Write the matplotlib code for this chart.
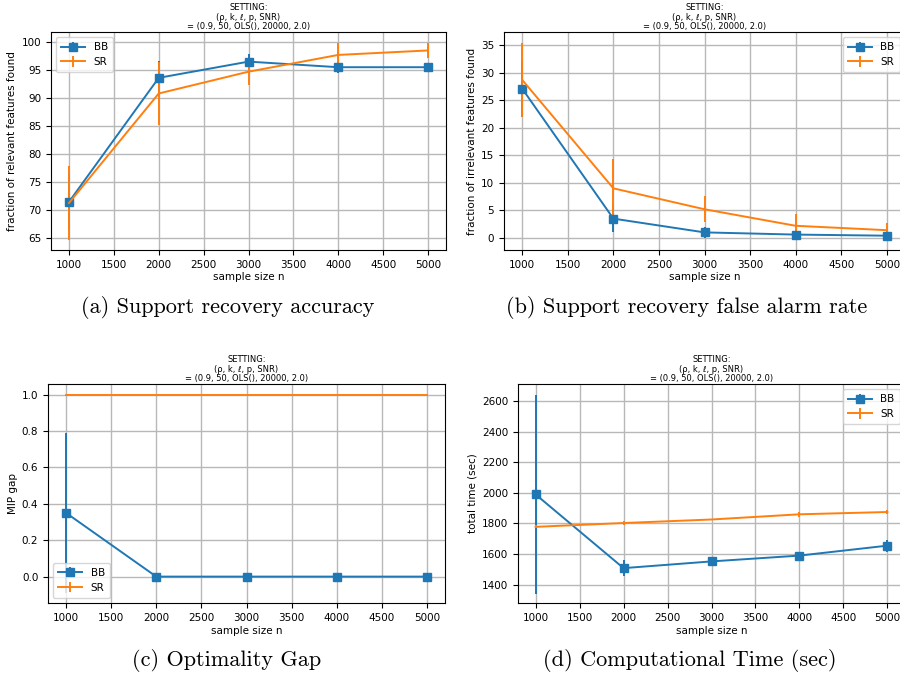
import numpy as np
import matplotlib
matplotlib.use("Agg")
from matplotlib import pyplot as plt

# sample sizes
n = [1000, 2000, 3000, 4000, 5000]

# (a) support recovery accuracy
acc_bb = [71.4, 93.6, 96.5, 95.5, 95.5]
acc_bb_err = [5.0, 3.0, 1.3, 1.0, 0.5]
acc_sr = [71.2, 90.8, 94.7, 97.7, 98.5]
acc_sr_err = [6.7, 5.7, 2.3, 2.2, 1.3]

# (b) false alarm rate
fa_bb = [27.1, 3.5, 1.0, 0.6, 0.4]
fa_bb_err = [5.1, 2.5, 1.0, 0.7, 0.5]
fa_sr = [28.7, 9.0, 5.2, 2.2, 1.4]
fa_sr_err = [6.7, 5.3, 2.4, 2.2, 1.3]

# (c) optimality gap
gap_bb = [0.35, 0.0, 0.0, 0.0, 0.0]
gap_bb_err = [0.44, 0.0, 0.0, 0.0, 0.0]
gap_sr = [1.0, 1.0, 1.0, 1.0, 1.0]
gap_sr_err = [0.0, 0.0, 0.0, 0.0, 0.0]

# (d) computational time
time_bb = [1990, 1508, 1552, 1590, 1655]
time_bb_err = [650, 50, 20, 20, 40]
time_sr = [1778, 1803, 1826, 1860, 1875]
time_sr_err = [10, 10, 5, 15, 15]

setting = "SETTING:\n(ρ, k, ℓ, p, SNR)\n= (0.9, 50, OLS(), 20000, 2.0)"

W, H = 900, 679
fig = plt.figure(figsize=(9, 6.79), dpi=100)


def panel(left, right, top, bottom, bb, bb_err, sr, sr_err, ylabel, ylim, loc):
    ax = fig.add_axes([left / W, (H - bottom) / H, (right - left) / W, (bottom - top) / H])
    ax.errorbar(n, bb, yerr=bb_err, color="#1f77b4", marker="s", markersize=6,
                linewidth=1.4, elinewidth=1.4, capsize=0, label="BB")
    ax.errorbar(n, sr, yerr=sr_err, color="#ff7f0e",
                linewidth=1.4, elinewidth=1.4, capsize=0, label="SR")
    ax.grid(True, color="#b8b8b8", linewidth=1.0)
    ax.set_xlim(800, 5200)
    ax.set_ylim(*ylim)
    ax.set_xticks([1000, 1500, 2000, 2500, 3000, 3500, 4000, 4500, 5000])
    ax.tick_params(labelsize=7.5, length=3.5)
    ax.set_xlabel("sample size n", fontsize=7.5, labelpad=2)
    ax.set_ylabel(ylabel, fontsize=7.5, labelpad=3)
    ax.set_title(setting, fontsize=6, pad=2, linespacing=1.1)
    ax.legend(loc=loc, fontsize=7.5, handlelength=2.3, borderpad=0.5, labelspacing=0.45)
    return ax


panel(51, 446, 32, 250, acc_bb, acc_bb_err, acc_sr, acc_sr_err,
      "fraction of relevant features found", (62.8, 101.8), "upper left")
panel(504, 905, 32, 250, fa_bb, fa_bb_err, fa_sr, fa_sr_err,
      "fraction of irrelevant features found", (-2.2, 37.4), "upper right")
panel(48, 445, 384, 603, gap_bb, gap_bb_err, gap_sr, gap_sr_err,
      "MIP gap", (-0.145, 1.058), "lower left")
panel(518, 905, 384, 603, time_bb, time_bb_err, time_sr, time_sr_err,
      "total time (sec)", (1280, 2712), "upper right")

cap = dict(fontsize=16, family="cmr10", ha="center", va="center")
fig.text(228 / W, 1 - 308 / H, "(a) Support recovery accuracy", **cap)
fig.text(687 / W, 1 - 308 / H, "(b) Support recovery false alarm rate", **cap)
fig.text(227 / W, 1 - 661 / H, "(c) Optimality Gap", **cap)
fig.text(690 / W, 1 - 661 / H, "(d) Computational Time (sec)", **cap)

fig.savefig("out.png", dpi=100)
